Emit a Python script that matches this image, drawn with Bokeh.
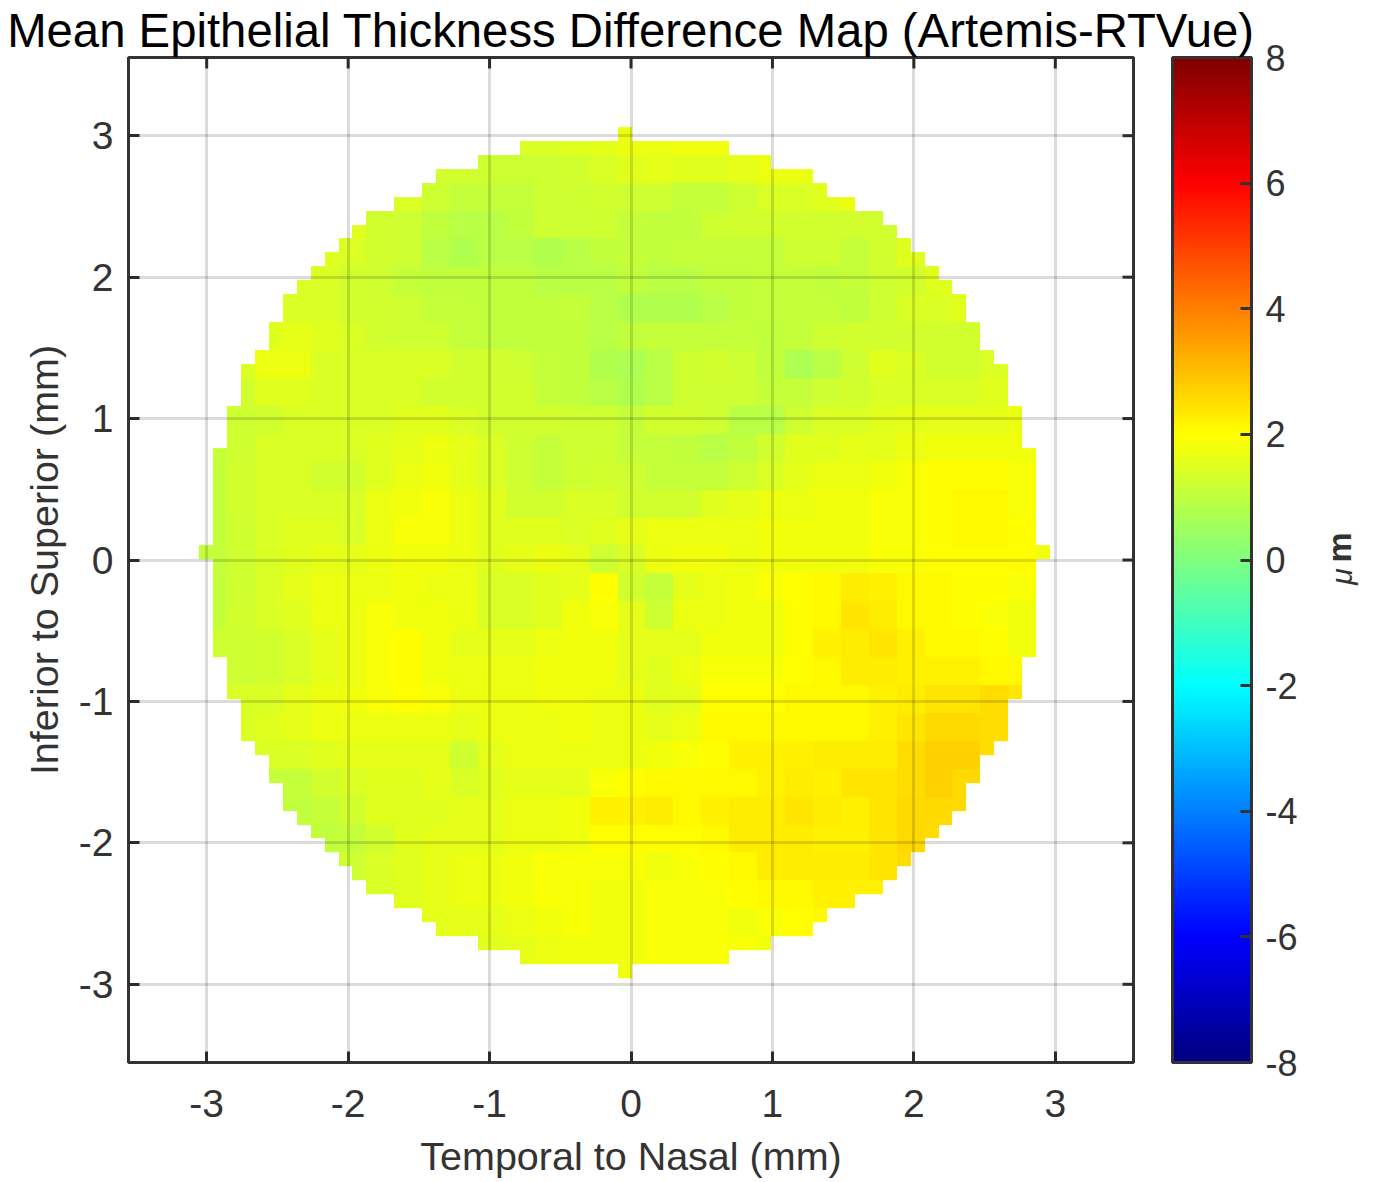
import numpy as np
from bokeh.embed import file_html
from bokeh.resources import INLINE
from bokeh.plotting import figure
from bokeh.models import (LinearColorMapper, ColorBar, FixedTicker, Label, Range1d)

TITLE = "Mean Epithelial Thickness Difference Map (Artemis-RTVue)"
XLABEL = "Temporal to Nasal (mm)"
YLABEL = "Inferior to Superior (mm)"
CBLABEL_MU = "\u03bc"
CBLABEL_M = "m"
AXIS_TICKS = [-3, -2, -1, 0, 1, 2, 3]
CB_TICKS = [-8, -6, -4, -2, 0, 2, 4, 6, 8]

# half width (in cells, each side of the central column) of rows 0..30, top to centre; the disc is mirrored below
HALF_WIDTHS = [0, 7, 10, 13, 14, 16, 18, 19, 20, 21, 22, 23, 24, 24, 25, 25, 26, 27, 27, 27, 28, 28, 28,
               29, 29, 29, 29, 29, 29, 29, 30]

# thickness difference (um), read in 2x2-cell blocks; first block index of each row, then values, top to bottom
ROW_START = [11, 8, 7, 5, 4, 3, 3, 2, 1, 1, 1, 0, 0, 0, 0, 0, 0, 0, 0, 1, 1, 1, 2, 2, 3, 4, 5, 6, 8, 10, 15]
ROWS = [
 [1.4,1.4,1.5,1.6,1.7,1.7,1.8,1.8],
 [1.3,1.3,1.2,1.2,1.2,1.3,1.4,1.5,1.6,1.5,1.5,1.6,1.7,1.7],
 [1.4,1.2,1.1,1.1,1.1,1.2,1.2,1.3,1.2,1.2,1.1,1.1,1.2,1.4,1.4,1.5,1.7],
 [1.5,1.3,1.2,1.0,0.9,0.9,1.0,1.2,1.2,1.2,1.1,1.0,1.0,1.2,1.3,1.3,1.3,1.3,1.3,1.3],
 [1.5,1.4,1.3,1.2,0.9,0.8,0.9,0.9,0.8,0.9,1.0,1.1,1.0,1.1,1.1,1.1,1.1,1.2,1.2,1.1,1.3,1.5],
 [1.4,1.4,1.3,1.2,1.1,1.0,1.0,1.0,1.0,0.9,0.9,0.9,1.0,0.9,0.9,1.0,1.0,1.1,1.1,1.0,1.1,1.2,1.3,1.5],
 [1.4,1.4,1.3,1.3,1.2,1.1,1.1,1.0,1.0,1.0,1.1,0.9,0.8,0.8,0.8,0.9,1.0,1.1,1.1,1.1,1.0,1.2,1.4,1.4,1.5],
 [1.5,1.6,1.5,1.4,1.3,1.2,1.2,1.1,1.0,1.0,1.0,1.0,0.9,1.0,1.1,1.1,1.1,1.1,1.0,1.1,1.2,1.3,1.3,1.3,1.3,1.3],
 [1.4,1.7,1.7,1.4,1.4,1.4,1.4,1.4,1.3,1.3,1.2,1.1,1.0,0.8,0.7,0.9,1.2,1.3,1.2,1.0,0.7,0.9,1.2,1.5,1.4,1.3,1.3,1.4],
 [1.3,1.5,1.5,1.4,1.4,1.4,1.4,1.3,1.3,1.3,1.3,1.1,1.0,0.9,0.8,0.9,1.2,1.2,1.2,1.1,1.1,1.2,1.3,1.4,1.4,1.4,1.4,1.5],
 [1.2,1.3,1.4,1.4,1.4,1.4,1.5,1.5,1.4,1.3,1.3,1.3,1.2,1.2,1.1,1.3,1.3,1.2,0.9,0.9,1.2,1.4,1.4,1.5,1.6,1.6,1.6,1.6,1.7],
 [1.1,1.2,1.4,1.4,1.4,1.4,1.5,1.6,1.7,1.6,1.4,1.2,1.1,1.2,1.2,1.1,1.1,1.0,0.9,1.0,1.3,1.5,1.5,1.6,1.6,1.7,1.8,1.8,1.8,1.8],
 [1.1,1.3,1.4,1.4,1.3,1.3,1.5,1.7,1.8,1.6,1.4,1.2,1.1,1.2,1.3,1.2,1.1,1.1,1.1,1.2,1.4,1.6,1.7,1.7,1.8,1.9,2.0,2.0,2.0,1.9],
 [1.1,1.3,1.4,1.4,1.4,1.4,1.7,1.8,1.9,1.7,1.5,1.3,1.3,1.4,1.4,1.3,1.3,1.3,1.5,1.6,1.7,1.7,1.8,1.8,1.9,1.9,2.0,2.1,2.1,1.9],
 [1.1,1.2,1.4,1.5,1.5,1.4,1.7,1.9,1.9,1.7,1.5,1.5,1.5,1.4,1.5,1.6,1.7,1.7,1.7,1.7,1.8,1.8,1.8,1.8,1.9,1.9,2.0,2.1,2.1,2.0],
 [1.1,1.2,1.4,1.5,1.6,1.6,1.7,1.8,1.8,1.7,1.5,1.6,1.7,1.6,1.2,1.4,1.7,1.8,1.8,1.7,1.8,1.8,1.8,1.8,1.9,1.9,2.0,2.0,2.0,2.0,1.8],
 [1.1,1.2,1.4,1.6,1.7,1.7,1.7,1.8,1.7,1.7,1.4,1.4,1.5,1.6,2.0,1.3,1.1,1.6,1.7,1.8,1.9,2.0,2.1,2.3,2.2,2.1,2.1,2.0,2.0,1.9],
 [1.1,1.3,1.4,1.5,1.7,1.7,1.9,1.8,1.8,1.7,1.4,1.4,1.5,1.8,1.9,1.6,1.2,1.7,1.7,1.8,1.8,2.0,2.1,2.4,2.3,2.1,2.1,2.0,1.9,1.8],
 [1.2,1.2,1.3,1.4,1.6,1.7,1.9,2.0,1.8,1.6,1.6,1.6,1.7,1.8,1.8,1.6,1.6,1.6,1.8,1.8,1.8,2.0,2.2,2.3,2.4,2.2,2.1,2.1,2.0,1.8],
 [1.2,1.3,1.4,1.6,1.7,1.9,2.0,1.8,1.7,1.7,1.7,1.8,1.8,1.8,1.6,1.5,1.7,1.9,1.9,1.9,2.0,2.1,2.3,2.3,2.2,2.2,2.2,2.1,2.1],
 [1.4,1.4,1.6,1.7,1.8,1.9,2.0,1.9,1.7,1.7,1.7,1.8,1.8,1.7,1.7,1.5,1.6,2.0,2.0,2.0,2.1,2.1,2.1,2.2,2.3,2.4,2.4,2.5,2.4],
 [1.4,1.5,1.6,1.7,1.7,1.7,1.7,1.7,1.6,1.7,1.7,1.7,1.8,1.7,1.7,1.6,1.7,2.1,2.1,2.1,2.1,2.1,2.1,2.2,2.4,2.6,2.6,2.5],
 [1.4,1.4,1.5,1.6,1.6,1.6,1.6,1.2,1.6,1.7,1.7,1.7,1.7,1.7,1.8,1.9,2.0,2.2,2.2,2.2,2.3,2.3,2.3,2.5,2.7,2.7,2.5],
 [1.1,1.1,1.3,1.4,1.5,1.5,1.6,1.4,1.5,1.6,1.6,1.6,1.9,2.0,2.1,2.1,2.1,2.1,2.2,2.3,2.2,2.4,2.4,2.5,2.7,2.6],
 [1.0,1.1,1.3,1.5,1.5,1.5,1.6,1.6,1.7,1.7,1.8,2.2,2.2,2.3,2.1,2.2,2.3,2.3,2.4,2.3,2.2,2.4,2.6,2.6,2.6],
 [1.0,1.1,1.3,1.5,1.6,1.6,1.6,1.7,1.7,1.8,2.0,2.0,2.0,2.0,2.1,2.3,2.3,2.3,2.2,2.2,2.4,2.6,2.5],
 [1.2,1.4,1.5,1.6,1.7,1.7,1.8,1.9,1.9,1.9,1.9,1.8,1.9,2.0,2.1,2.3,2.3,2.3,2.3,2.4,2.5],
 [1.4,1.5,1.6,1.7,1.7,1.8,1.9,1.9,1.8,1.8,1.9,1.9,1.9,2.0,2.1,2.1,2.2,2.2,2.2],
 [1.6,1.6,1.6,1.7,1.8,1.9,1.8,1.8,1.9,1.9,1.9,1.8,1.9,2.0,2.1],
 [1.5,1.6,1.7,1.8,1.8,1.8,1.9,1.9,1.9,1.9,1.8],
 [1.8],
]

INK = "#333333"
FONT = "Liberation Sans"
TICK_MM = 11 / 141.4


def jet(n=256):
    out = []
    for i in range(n):
        f = (i + 0.5) / n
        r = np.clip(min(4 * f - 1.5, -4 * f + 4.5), 0, 1)
        g = np.clip(min(4 * f - 0.5, -4 * f + 3.5), 0, 1)
        b = np.clip(min(4 * f + 0.5, -4 * f + 2.5), 0, 1)
        out.append("#%02x%02x%02x" % (int(r * 255), int(g * 255), int(b * 255)))
    return out


N = 61
half = HALF_WIDTHS + HALF_WIDTHS[-2::-1]
grid = np.full((N, N), np.nan)
for rb, (start, vals) in enumerate(zip(ROW_START, ROWS)):
    for k, v in enumerate(vals):
        b = start + k
        grid[2 * rb:2 * rb + 2, 2 * b:2 * b + 2] = v
for r in range(N):
    mask = np.abs(np.arange(N) - 30) > half[r]
    grid[r, mask] = np.nan

mapper = LinearColorMapper(palette=jet(), low=-8, high=8, nan_color=(0, 0, 0, 0))

LIM = 3.553
p = figure(width=1374, height=1180, x_range=Range1d(-LIM, LIM), y_range=Range1d(-LIM, LIM),
           output_backend="svg", toolbar_location=None, min_border_left=128, min_border_top=57,
           min_border_bottom=118, min_border_right=241, x_axis_label=XLABEL, y_axis_label=YLABEL,
           background_fill_color="white", border_fill_color="white",
           outline_line_color=INK, outline_line_width=3)
p.image(image=[grid[::-1]], x=-3.055, y=-2.957, dw=6.018, dh=6.018, color_mapper=mapper)

p.title.text = TITLE
p.title.align = "center"
p.title.text_font = FONT
p.title.text_font_size = "47.3px"
p.title.text_font_style = "normal"
p.title.text_color = "black"
p.title.standoff = 1

for g in (p.xgrid[0], p.ygrid[0]):
    g.ticker = FixedTicker(ticks=AXIS_TICKS)
    g.level = "overlay"
    g.grid_line_color = "black"
    g.grid_line_alpha = 0.14
    g.grid_line_width = 3

for ax in (p.xaxis[0], p.yaxis[0]):
    ax.ticker = FixedTicker(ticks=AXIS_TICKS)
    ax.major_tick_in = 11
    ax.major_tick_out = 0
    ax.minor_tick_line_color = None
    ax.major_tick_line_color = INK
    ax.major_tick_line_width = 3
    ax.axis_line_color = INK
    ax.axis_line_width = 3
    ax.major_label_text_font = FONT
    ax.major_label_text_font_size = "39px"
    ax.major_label_text_color = INK
    ax.axis_label_text_font = FONT
    ax.axis_label_text_font_size = "39.5px"
    ax.axis_label_text_font_style = "normal"
    ax.axis_label_text_color = INK
    ax.major_label_overrides = {t: str(t) for t in AXIS_TICKS}
p.xaxis[0].major_label_standoff = 27
p.xaxis[0].axis_label_standoff = 14
p.yaxis[0].major_label_standoff = 15
p.yaxis[0].axis_label_standoff = 10
p.yaxis[0].major_label_orientation = "horizontal"

# inward tick marks of the top and right edges of the box
ticks = np.array(AXIS_TICKS, dtype=float)
edge = np.full(len(ticks), LIM)
tick_style = dict(line_color=INK, line_width=3, level="overlay")
p.segment(ticks, edge, ticks, edge - TICK_MM, **tick_style)
p.segment(edge, ticks, edge - TICK_MM, ticks, **tick_style)

cb = ColorBar(color_mapper=mapper, ticker=FixedTicker(ticks=CB_TICKS), width=79, height=1005, padding=0,
              margin=0, location=(39, 0), bar_line_color=INK, bar_line_width=3, major_tick_line_color=INK,
              major_tick_line_width=3, major_tick_in=11, major_tick_out=0, minor_tick_line_color=None,
              major_label_text_font=FONT, major_label_text_font_size="36px", major_label_text_color=INK,
              label_standoff=14, major_label_overrides={t: str(t) for t in CB_TICKS},
              background_fill_color=None, border_line_color=None)
p.add_layout(cb, "right")

p.add_layout(Label(x=1341, y=576, x_units="canvas", y_units="canvas", text=CBLABEL_MU, angle=np.pi / 2,
                   text_font=FONT, text_font_size="30px", text_font_style="italic", text_color=INK,
                   text_align="center", text_baseline="middle", level="overlay"), "right")
p.add_layout(Label(x=1338, y=547, x_units="canvas", y_units="canvas", text=CBLABEL_M, angle=np.pi / 2,
                   text_font=FONT, text_font_size="34px", text_font_style="bold", text_color=INK,
                   text_align="center", text_baseline="middle", level="overlay"), "right")

open("out.html", "w").write(file_html(p, INLINE))
